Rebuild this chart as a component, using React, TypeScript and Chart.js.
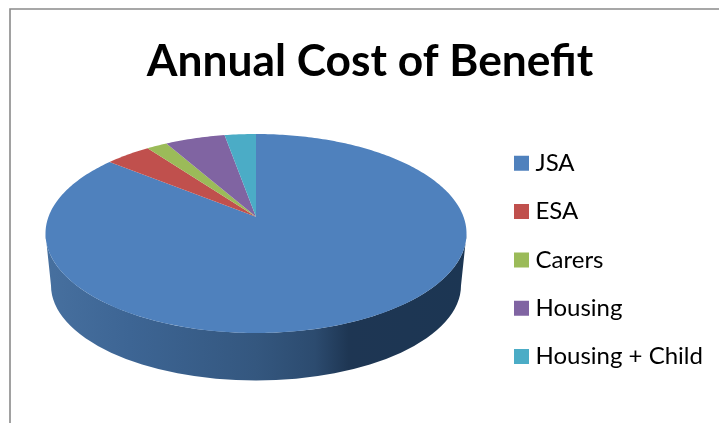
import React, { useEffect, useRef } from "react";
import { Chart, registerables } from "chart.js";

Chart.register(...registerables);

const categories = ["JSA", "ESA", "Carers", "Housing", "Housing + Child"];
const shareOfCost = [85.75, 4.14, 1.86, 5.42, 2.83];
const sliceColors = ["#4f81bd", "#c0504d", "#9bbb59", "#8064a2", "#4bacc6"];
const titleText = "Annual Cost of Benefit";

// Projection of the pie disc on to the page (tilted, with perspective).
const TOP = { cx: 256, cy: 233.5, rx: 210.5, ry: 99.5 };
const BASE = { cx: 256, cy: 285.5, rx: 205, ry: 95 };
const TILT = -0.169;

function project(angle: number) {
  const u = Math.cos(angle);
  const v = Math.sin(angle);
  const w = 1 + TILT * v;
  return {
    x: TOP.cx + (TOP.rx * u * Math.sqrt(1 - TILT * TILT)) / w,
    y: TOP.cy + (TOP.ry * (v + TILT)) / w,
  };
}

const framePlugin = {
  id: "frame",
  afterLayout(chart: any) {
    chart.legend.top = 127;
    chart.legend.left = 495.2;
  },
  beforeDraw(chart: any) {
    const { ctx, width, height } = chart;
    ctx.save();
    ctx.strokeStyle = "#8a8a8a";
    ctx.lineWidth = 1.6;
    ctx.beginPath();
    ctx.moveTo(10, height);
    ctx.lineTo(10, 9);
    ctx.lineTo(width, 9);
    ctx.stroke();
    ctx.restore();
  },
};

const pie3dPlugin = {
  id: "pie3d",
  beforeDatasetDraw(chart: any, args: any) {
    const { ctx } = chart;
    const meta = chart.getDatasetMeta(args.index);
    ctx.save();

    // Side wall
    const g = ctx.createLinearGradient(TOP.cx - TOP.rx, 0, TOP.cx + TOP.rx, 0);
    g.addColorStop(0, "#47709f");
    g.addColorStop(0.2, "#3d6594");
    g.addColorStop(0.5, "#34577f");
    g.addColorStop(0.64, "#2c4b6f");
    g.addColorStop(0.72, "#1e3653");
    g.addColorStop(1, "#1c3653");
    ctx.fillStyle = g;
    ctx.beginPath();
    ctx.ellipse(TOP.cx, TOP.cy, TOP.rx, TOP.ry, 0, 0, Math.PI);
    ctx.lineTo(BASE.cx - BASE.rx, BASE.cy);
    ctx.ellipse(BASE.cx, BASE.cy, BASE.rx, BASE.ry, 0, Math.PI, 0, true);
    ctx.closePath();
    ctx.fill();

    // Top face, one slice per arc the library computed
    const centre = { x: TOP.cx, y: TOP.cy + TOP.ry * TILT };
    meta.data.forEach((arc: any, i: number) => {
      const { startAngle, endAngle } = arc.getProps(["startAngle", "endAngle"]);
      const steps = Math.max(8, Math.ceil((endAngle - startAngle) * 60));
      ctx.beginPath();
      ctx.moveTo(centre.x, centre.y);
      for (let s = 0; s <= steps; s++) {
        const p = project(startAngle + ((endAngle - startAngle) * s) / steps);
        ctx.lineTo(p.x, p.y);
      }
      ctx.closePath();
      ctx.fillStyle = sliceColors[i];
      ctx.fill();
    });
    ctx.restore();
    return false;
  },
};

export default function App() {
  const ref = useRef<HTMLCanvasElement>(null);
  useEffect(() => {
    const chart = new Chart(ref.current!, {
      type: "pie",
      data: {
        labels: categories,
        datasets: [{ data: shareOfCost, backgroundColor: sliceColors, borderWidth: 0 }],
      },
      options: {
        animation: false,
        responsive: false,
        devicePixelRatio: 1,
        layout: { padding: { left: 29, right: 8, top: 0, bottom: 0 } },
        plugins: {
          tooltip: { enabled: false },
          title: {
            display: true,
            text: titleText,
            color: "#000000",
            font: { family: "Lato", size: 44.3, weight: "bold" },
            padding: { top: 35, bottom: 10 },
          },
          legend: {
            position: "right",
            align: "start",
            labels: {
              color: "#000000",
              boxWidth: 4,
              boxHeight: 4,
              padding: 24.3,
              font: { family: "Lato", size: 24 },
              generateLabels: () =>
                categories.map((text, i) => ({
                  text,
                  index: i,
                  fillStyle: sliceColors[i],
                  strokeStyle: sliceColors[i],
                  lineWidth: 11,
                  lineJoin: "miter",
                  fontColor: "#000000",
                })),
            },
          },
        },
      },
      plugins: [framePlugin, pie3dPlugin],
    } as any);
    return () => chart.destroy();
  }, []);
  return (
    <div style={{ position: "fixed", left: 0, top: 0, width: 719, height: 423, background: "#fff" }}>
      <canvas ref={ref} width={719} height={423} style={{ display: "block" }} />
    </div>
  );
}
